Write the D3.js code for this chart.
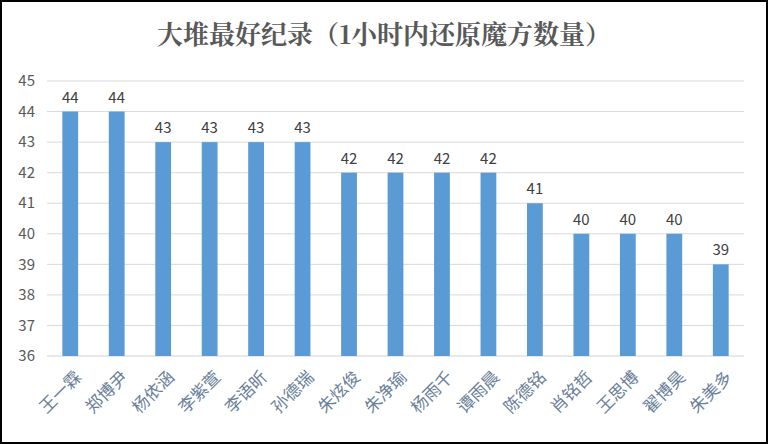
<!DOCTYPE html>
<html><head><meta charset="utf-8">
<script src="https://cdn.jsdelivr.net/npm/d3@7"></script>
<style>body{margin:0;background:#fff}</style>
</head><body><svg id="c" width="768" height="444"></svg>
<script>
const names = ['王一霖','郑博尹','杨依涵','李紫萱','李语昕','孙德瑞','朱炫俊','朱净瑜','杨雨千','谭雨晨','陈德铭','肖铭哲','王思博','翟博昊','朱美多'];
const values = [44,44,43,43,43,43,42,42,42,42,41,40,40,40,39];
const yTicks = [36,37,38,39,40,41,42,43,44,45];

const svg = d3.select('#c');
const font = '"Noto Sans CJK SC", sans-serif';
svg.append('rect').attr('x',1).attr('y',1).attr('width',766).attr('height',442)
  .attr('fill','#fff').attr('stroke','#000').attr('stroke-width',2);

const x = d3.scaleBand().domain(names).range([47, 744]).paddingInner(0.66).paddingOuter(0.33);
const y = d3.scaleLinear().domain([36,45]).range([356, 81]);

svg.append('g').selectAll('line').data(yTicks).join('line')
  .attr('x1',47).attr('x2',744).attr('y1',d=>y(d)).attr('y2',d=>y(d))
  .attr('stroke', d => d===36 ? '#d0d0d0' : '#d9d9d9').attr('stroke-width',1);

svg.append('g').selectAll('text').data(yTicks).join('text')
  .attr('x',35).attr('y',d=>y(d)).attr('dy','0.35em').attr('text-anchor','end')
  .attr('font-family',font).attr('font-size',15).attr('fill','#595959').text(d=>d);

svg.append('g').selectAll('rect').data(values).join('rect')
  .attr('x',(d,i)=>x(names[i])).attr('width',x.bandwidth())
  .attr('y',d=>y(d)).attr('height',d=>y(36)-y(d)).attr('fill','#5b9bd5');

svg.append('g').selectAll('text').data(values).join('text')
  .attr('x',(d,i)=>x(names[i])+x.bandwidth()/2).attr('y',d=>y(d)-9)
  .attr('text-anchor','middle').attr('font-family',font).attr('font-size',15)
  .attr('fill','#404040').text(d=>d);

svg.append('g').selectAll('text').data(names).join('text')
  .attr('transform',d=>`translate(${x(d)+x.bandwidth()/2+8},${374}) rotate(-45)`)
  .attr('text-anchor','end').attr('dy','0.35em').attr('font-family',font).attr('font-size',17)
  .attr('fill','#6a7f99').text(d=>d);

svg.append('text').attr('x',384).attr('y',44).attr('text-anchor','middle')
  .attr('font-family','"Noto Serif CJK SC","Noto Sans CJK SC",serif').attr('font-weight','bold')
  .attr('font-size',26).attr('fill','#595959').text('大堆最好纪录（1小时内还原魔方数量）');
</script></body></html>
